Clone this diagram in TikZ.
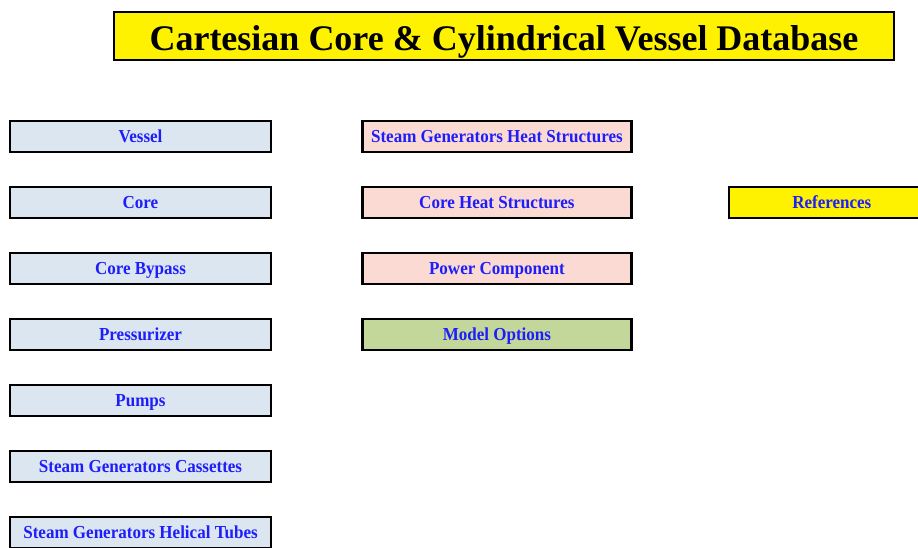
\documentclass[tikz,border=0pt]{standalone}
\usepackage{fontspec}
\setmainfont{Liberation Serif}
\newfontfamily\boxfont[FakeStretch=0.93]{Liberation Serif}
\usepackage{xcolor}
\usetikzlibrary{positioning}

\definecolor{boxblue}{RGB}{220,230,241}
\definecolor{boxpink}{RGB}{251,218,212}
\definecolor{boxgreen}{RGB}{196,215,155}
\definecolor{textblue}{RGB}{30,30,250}

\tikzset{
  dbbox/.style={rectangle, draw=black, line width=2.4pt, outer sep=0pt,
    minimum height=31pt, inner sep=0pt, text=textblue,
    text height=12.3pt, text depth=0pt,
    font=\boxfont\fontsize{18.3}{21}\selectfont\bfseries},
  leftbox/.style={dbbox, fill=boxblue, minimum width=261pt},
  midbox/.style={dbbox, minimum width=269pt},
}

\begin{document}
\begin{tikzpicture}[x=1pt, y=1pt, node distance=35pt]

    \clip (0,0) rectangle (918,-547);

    % Title
    \node[rectangle, draw=black, line width=2.4pt, fill=yellow,
      minimum width=779.6pt, minimum height=47.6pt, inner sep=0pt,
      text height=30pt, text depth=1.2pt,
      font=\fontsize{36}{40}\selectfont\bfseries] (title) at (504,-36)
      {Cartesian Core \& Cylindrical Vessel Database};

    % Define nodes
    \node[leftbox] (vessel) at (140.5,-136.5) {Vessel};
    \node[leftbox, below=of vessel] (core) {Core};
    \node[leftbox, below=of core] (bypass) {Core Bypass};
    \node[leftbox, below=of bypass] (pressurizer) {Pressurizer};
    \node[leftbox, below=of pressurizer] (pumps) {Pumps};
    \node[leftbox, below=of pumps] (cassettes) {Steam Generators Cassettes};
    \node[leftbox, below=of cassettes] (helical) {Steam Generators Helical Tubes};

    \node[midbox, fill=boxpink, right=91.4pt of vessel] (sghs) {Steam Generators Heat Structures};
    \node[midbox, fill=boxpink, below=of sghs] (corehs) {Core Heat Structures};
    \node[midbox, fill=boxpink, below=of corehs] (power) {Power Component};
    \node[midbox, fill=boxgreen, below=of power] (options) {Model Options};

    \node[dbbox, fill=yellow, minimum width=206pt, right=97.4pt of corehs] (refs) {References};

  \end{tikzpicture}
\end{document}
